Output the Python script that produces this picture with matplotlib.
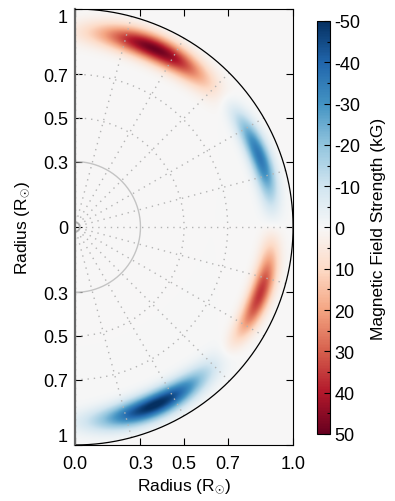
import numpy as np
import matplotlib
matplotlib.use('Agg')
import matplotlib.pyplot as plt
from matplotlib.ticker import MultipleLocator

plt.rcParams['font.family'] = ['Liberation Sans', 'DejaVu Sans']
plt.rcParams['mathtext.fontset'] = 'custom'
plt.rcParams['mathtext.rm'] = 'Liberation Sans'
plt.rcParams['mathtext.it'] = 'Liberation Sans:italic'
plt.rcParams['axes.unicode_minus'] = False

# toroidal field bands (latitude in degrees, radius in R_sun, peak in kG)
blob_lat = [66, 21, -20, -66]
blob_r = [0.895, 0.903, 0.900, 0.895]
blob_amp = [49, -36, 36, -51]
blob_lat_width = [11.5, 9.5, 9.5, 11.5]
blob_r_width = [0.041, 0.033, 0.033, 0.041]

x_ticks = [0.0, 0.3, 0.5, 0.7, 1.0]
x_tick_labels = ['0.0', '0.3', '0.5', '0.7', '1.0']
y_ticks = [-1, -0.7, -0.5, -0.3, 0, 0.3, 0.5, 0.7, 1]
y_tick_labels = ['1', '0.7', '0.5', '0.3', '0', '0.3', '0.5', '0.7', '1']
cbar_ticks = [-50, -40, -30, -20, -10, 0, 10, 20, 30, 40, 50]

grid_radii = [0.5, 0.7]
grid_angles = np.arange(-90, 91, 15)

# field on a cartesian grid
nx, ny = 400, 800
xs = np.linspace(0, 1, nx)
ys = np.linspace(-1, 1, ny)
X, Y = np.meshgrid(xs, ys)
R = np.hypot(X, Y)
LAT = np.degrees(np.arctan2(Y, X))
B = np.zeros_like(X)
for lat, r0, amp, wl, wr in zip(blob_lat, blob_r, blob_amp, blob_lat_width, blob_r_width):
    B += amp * np.exp(-0.5 * ((LAT - lat) / wl) ** 2 - 0.5 * ((R - r0) / wr) ** 2)
B[R > 1] = 0

fig = plt.figure(figsize=(3.95, 5.02), dpi=100)
ax = fig.add_axes([0.190, 0.1116, 0.552, 0.8685])
cmap = plt.get_cmap('RdBu_r')
ax.set_facecolor(cmap(0.5))
im = ax.imshow(B, extent=[0, 1, -1, 1], origin='lower', cmap=cmap,
               vmin=-50, vmax=50, interpolation='bilinear', aspect='auto')

# polar grid
th = np.linspace(-np.pi / 2, np.pi / 2, 300)
for rr in grid_radii:
    ax.plot(rr * np.cos(th), rr * np.sin(th), ls=(0, (1, 3.5)), color='#b4b4b4', lw=1)
for a in grid_angles:
    t = np.radians(a)
    ax.plot([0.02 * np.cos(t), np.cos(t)], [0.02 * np.sin(t), np.sin(t)],
            ls=(0, (1, 3.5)), color='#b4b4b4', lw=1)
ax.plot(0.3 * np.cos(th), 0.3 * np.sin(th), color='#c4c4c4', lw=1)
ax.plot(0.02 * np.cos(th), 0.02 * np.sin(th), color='#b0b0b0', lw=0.8)
ax.plot(np.cos(th), np.sin(th), color='black', lw=0.9)

ax.set_xlim(0, 1)
ax.set_ylim(-1, 1)
ax.set_xticks(x_ticks)
ax.set_xticklabels(x_tick_labels)
ax.set_yticks(y_ticks)
ax.set_yticklabels(y_tick_labels)
ax.tick_params(direction='in', top=True, right=True, labelsize=13, length=5, width=0.8)
ax.tick_params(axis='x', pad=7)
ax.tick_params(axis='y', pad=5)
ylabs = ax.get_yticklabels()
ylabs[0].set_va('bottom')
ylabs[-1].set_va('top')
ax.set_xlabel(r'Radius (R$_{{\odot}}$)', fontsize=12.5, labelpad=3)
ax.set_ylabel(r'Radius (R$_{{\odot}}$)', fontsize=12.5, labelpad=8)
for s in ax.spines.values():
    s.set_linewidth(0.8)
ax.spines['left'].set_color('#666666')
ax.spines['left'].set_linewidth(1.6)

cax = fig.add_axes([0.8025, 0.1335, 0.033, 0.8227])
cb = fig.colorbar(im, cax=cax, ticks=cbar_ticks)
cax.invert_yaxis()
cax.yaxis.set_minor_locator(MultipleLocator(5))
cax.tick_params(which='both', direction='in', labelsize=13, width=0.8, pad=3)
cax.tick_params(which='major', length=4)
cax.tick_params(which='minor', length=2)
cb.outline.set_linewidth(0.8)
cb.set_label('Magnetic Field Strength (kG)', fontsize=12.5, labelpad=8)

fig.savefig('out.png', dpi=100)
